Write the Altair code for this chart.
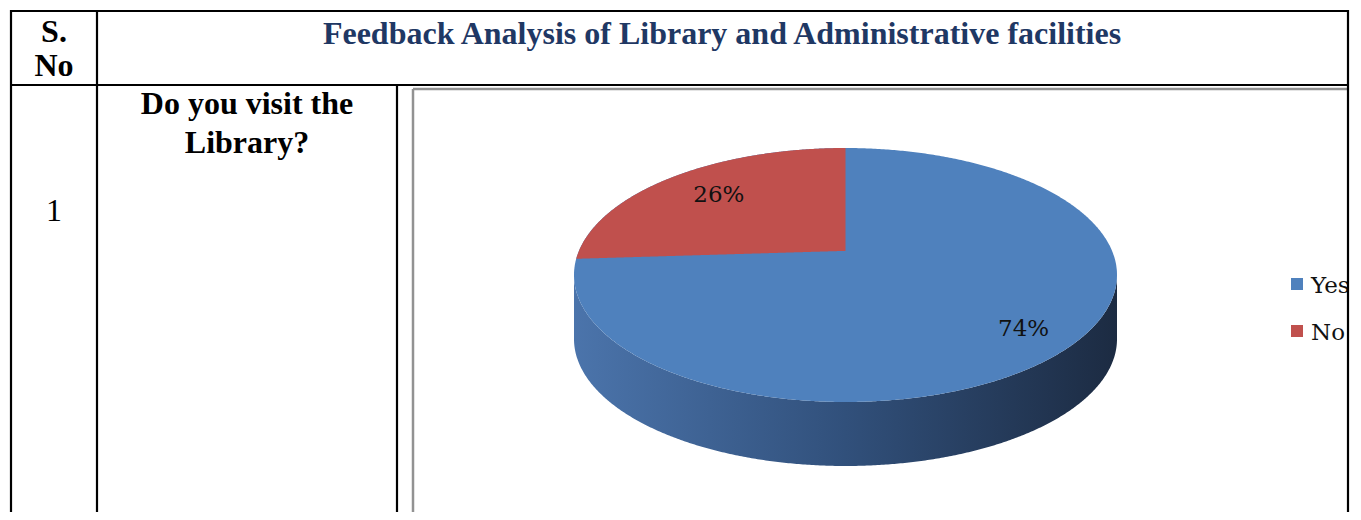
import numpy as np
import pandas as pd
import altair as alt

# ---------------- data ----------------
categories = ["Yes", "No"]
shares = [74, 26]
slice_colors = ["#4f81bd", "#c0504d"]

title_text = "Feedback Analysis of Library and Administrative facilities"
header_sno = ["S.", "No"]
question_lines = ["Do you visit the", "Library?"]
row_number = ["1"]

# ---------------- layout (pixels inside the chart) ----------------
W, H = 1345, 504
SERIF = "Liberation Serif"
LABEL_FONT = "DejaVu Serif"

# pie geometry in unit coordinates (top face = unit ellipse)
persp = 0.19        # vertex shift (perspective)
depth = 0.504       # thickness of the pie in units of the vertical radius
label_r = [0.90, 0.64]
xs = alt.Scale(domain=[-1, 1], range=[565, 1108], nice=False, zero=False)
ys = alt.Scale(domain=[-1 - depth, 1], range=[457, 139], nice=False, zero=False)

V = np.array([0.0, persp])


def ray_hit(theta_deg):
    th = np.radians(theta_deg)
    d = np.array([np.sin(th), np.cos(th)])
    b = V @ d
    t = -b + np.sqrt(b * b - (V @ V - 1))
    return V + t * d


# cumulative clockwise angles from 12 o'clock
total = sum(shares)
bounds = np.cumsum([0] + shares) / total * 360.0

# top face and side band
n = 400
u = -np.cos(np.pi * np.arange(n + 1) / n)
top = np.sqrt(np.clip(1 - u * u, 0, None))
face_df = pd.DataFrame({"x": u, "y": top, "y2": -top})
side_df = pd.DataFrame({"x": u, "y": -top, "y2": -top - depth})

# "No" slice region (angles bounds[1] .. 360)
pb = ray_hit(bounds[1])
m = 300
ur = pb[0] + (0 - pb[0]) * np.arange(m + 1) / m
line_y = persp + (ur / pb[0]) * (pb[1] - persp)
red_df = pd.DataFrame({"x": ur, "y": np.sqrt(np.clip(1 - ur * ur, 0, None)), "y2": line_y})

# labels at the middle angle of each slice
lab_rows = []
for i, (c, s) in enumerate(zip(categories, shares)):
    mid = np.radians((bounds[i] + bounds[i + 1]) / 2)
    lab_rows.append({"x": V[0] + label_r[i] * np.sin(mid),
                     "y": V[1] + label_r[i] * np.cos(mid),
                     "t": f"{s}%"})
lab_df = pd.DataFrame(lab_rows)

side = alt.Chart(side_df).mark_area(
    color={"gradient": "linear", "x1": 0, "x2": 1, "y1": 0, "y2": 0,
           "stops": [{"offset": 0, "color": "#4b74ab"},
                     {"offset": 0.5, "color": "#31507b"},
                     {"offset": 1, "color": "#1c2b42"}]}
).encode(x=alt.X("x:Q", scale=xs, axis=None),
         y=alt.Y("y:Q", scale=ys, axis=None), y2="y2:Q")

face = alt.Chart(face_df).mark_area(color=slice_colors[0]).encode(
    x=alt.X("x:Q", scale=xs, axis=None),
    y=alt.Y("y:Q", scale=ys, axis=None), y2="y2:Q")

red = alt.Chart(red_df).mark_area(color=slice_colors[1]).encode(
    x=alt.X("x:Q", scale=xs, axis=None),
    y=alt.Y("y:Q", scale=ys, axis=None), y2="y2:Q")

labels = alt.Chart(lab_df).mark_text(
    font=LABEL_FONT, fontSize=23, color="#111111", align="center", baseline="middle"
).encode(x=alt.X("x:Q", scale=xs, axis=None),
         y=alt.Y("y:Q", scale=ys, axis=None), text="t:N")

# ---------------- legend (drawn manually) ----------------
legend_y = [275, 322]
leg_df = pd.DataFrame({"cat": categories, "y": legend_y, "yt": [y + 9 for y in legend_y]})
cscale = alt.Scale(domain=categories, range=slice_colors)
leg_sq = alt.Chart(leg_df).mark_square(size=144, opacity=1).encode(
    x=alt.value(1288), y=alt.Y("y:Q", scale=None),
    color=alt.Color("cat:N", scale=cscale, legend=None))
leg_tx = alt.Chart(leg_df).mark_text(
    font=LABEL_FONT, fontSize=23, align="left", baseline="alphabetic", color="#111111"
).encode(x=alt.value(1302), y=alt.Y("yt:Q", scale=None), text="cat:N")

cover = alt.Chart(pd.DataFrame({"a": [0]})).mark_rect(color="white").encode(
    x=alt.value(1340), x2=alt.value(W), y=alt.value(0), y2=alt.value(H))

# ---------------- table ----------------
lines_df = pd.DataFrame({
    "x": [1, 1, 2, 88, 388, 1339],
    "x2": [1340, 1340, 2, 88, 388, 1339],
    "y": [2, 76, 1, 1, 76, 1],
    "y2": [2, 76, H, H, H, H],
})
table_lines = alt.Chart(lines_df).mark_rule(color="black", strokeWidth=2.2).encode(
    x=alt.X("x:Q", scale=None), x2="x2:Q",
    y=alt.Y("y:Q", scale=None), y2="y2:Q")

frame_df = pd.DataFrame({"x": [404, 404], "x2": [1339, 404], "y": [80, 80], "y2": [80, H]})
frame = alt.Chart(frame_df).mark_rule(color="#929292", strokeWidth=2.5).encode(
    x=alt.X("x:Q", scale=None), x2="x2:Q",
    y=alt.Y("y:Q", scale=None), y2="y2:Q")

bold_df = pd.DataFrame({
    "t": header_sno + question_lines,
    "x": [45, 45, 238, 238],
    "y": [33, 67, 105, 144],
})
bold_text = alt.Chart(bold_df).mark_text(
    font=SERIF, fontSize=32, fontWeight="bold", color="black",
    align="center", baseline="alphabetic"
).encode(x=alt.X("x:Q", scale=None), y=alt.Y("y:Q", scale=None), text="t:N")

title_df = pd.DataFrame({"t": [title_text], "x": [713], "y": [35]})
title = alt.Chart(title_df).mark_text(
    font=SERIF, fontSize=32, fontWeight="bold", color="#1f3864",
    align="center", baseline="alphabetic"
).encode(x=alt.X("x:Q", scale=None), y=alt.Y("y:Q", scale=None), text="t:N")

num_df = pd.DataFrame({"t": row_number, "x": [45], "y": [212]})
num = alt.Chart(num_df).mark_text(
    font=SERIF, fontSize=32, color="black", align="center", baseline="alphabetic"
).encode(x=alt.X("x:Q", scale=None), y=alt.Y("y:Q", scale=None), text="t:N")

chart = alt.layer(
    frame, side, face, red, labels, leg_sq, leg_tx, cover,
    table_lines, bold_text, title, num
).resolve_scale(
    x="independent", y="independent", color="independent"
).properties(
    width=W, height=H, padding=0,
    autosize=alt.AutoSizeParams(type="fit", contains="padding"),
    background="white",
).configure_view(stroke=None)

chart.save("out.html", embed_options={"renderer": "svg", "actions": False})
